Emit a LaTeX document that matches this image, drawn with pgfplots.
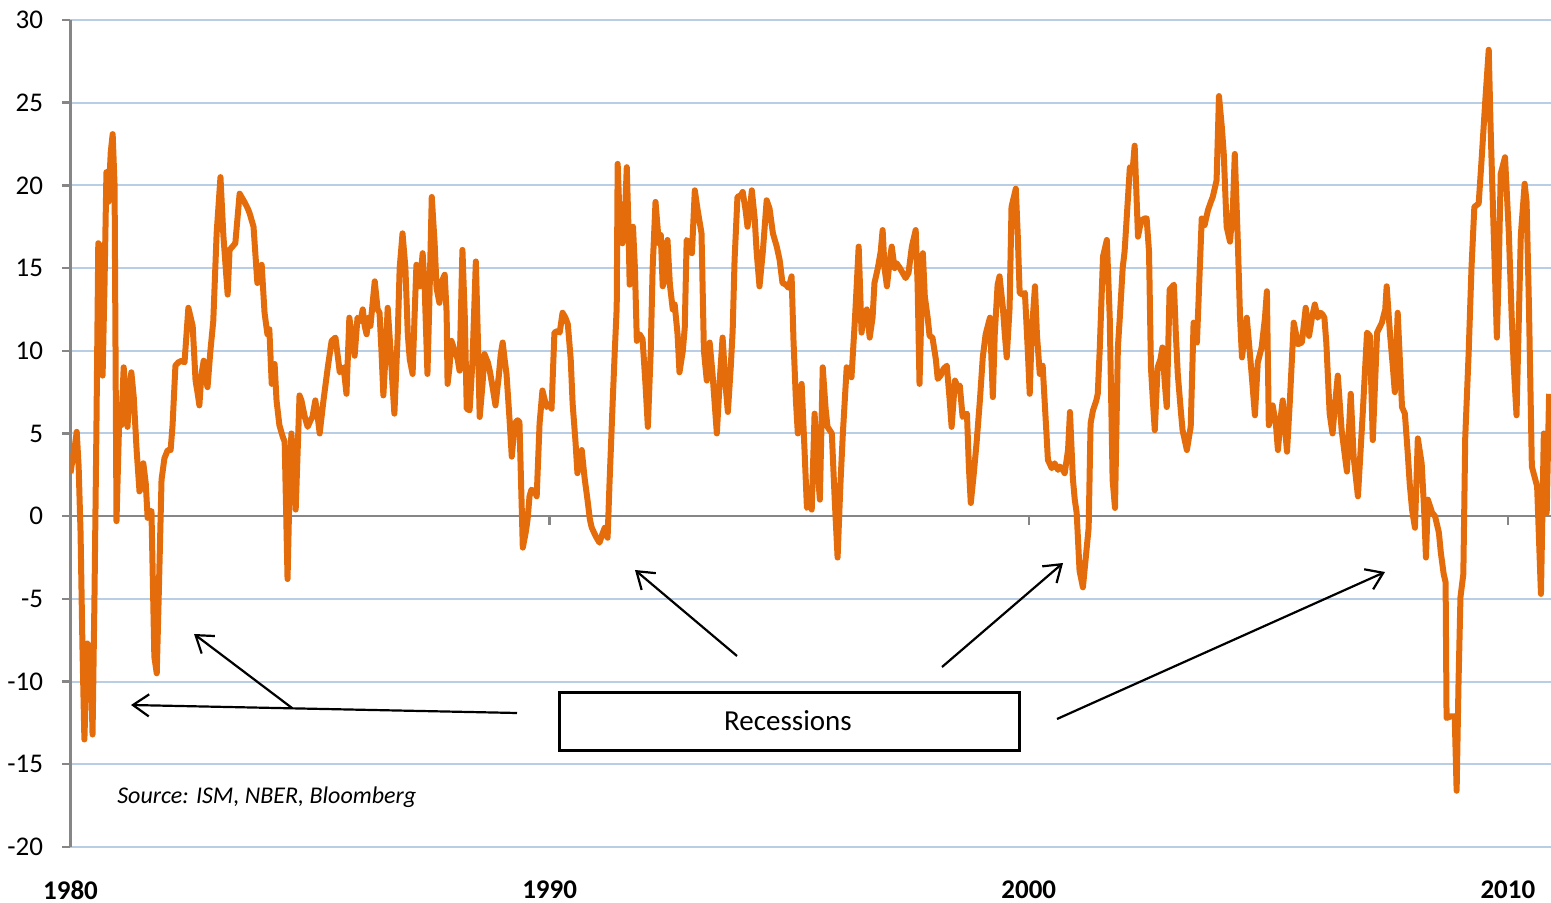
\documentclass[border=0pt]{standalone}
\usepackage{pgfplots}
\pgfplotsset{compat=1.18}
\usepackage{fontspec}
\setmainfont{Carlito}
\usetikzlibrary{arrows.meta}
\definecolor{lineorange}{HTML}{E46C0A}
\definecolor{gridblue}{HTML}{B9CDE5}
\definecolor{axisgray}{HTML}{868686}
\begin{document}
\begin{tikzpicture}
\useasboundingbox (0,0) rectangle (775.5pt,451.5pt);
\begin{axis}[
  scale only axis,
  width=740.25pt, height=413.5pt,
  at={(35.25pt,28pt)}, anchor=south west,
  xmin=1980, xmax=2010.9, ymin=-20, ymax=30,
  axis line style={draw=none},
  tick style={draw=none},
  clip mode=individual,
  xtick={1980,1990,2000,2010},
  xticklabels={1980,1990,2000,2010},
  ytick={-20,-15,-10,-5,0,5,10,15,20,25,30},
  yticklabels={-20,-15,-10,-5,0,5,10,15,20,25,30},
  ymajorgrids,
  major grid style={gridblue, line width=1pt},
  yticklabel style={font=\fontsize{13.5}{16}\selectfont, anchor=east, inner sep=0pt, xshift=-13.5pt},
  xticklabel style={font=\fontsize{13.5}{16}\selectfont\bfseries, anchor=center, inner sep=0pt, yshift=-21.5pt},
]
\draw[axisgray, line width=1.2pt] (axis cs:1980,0) -- (axis cs:2010.9,0);
\draw[axisgray, line width=1.2pt] (axis cs:1990,0) -- ([yshift=-4.5pt]axis cs:1990,0);
\draw[axisgray, line width=1.2pt] (axis cs:2000,0) -- ([yshift=-4.5pt]axis cs:2000,0);
\draw[axisgray, line width=1.2pt] (axis cs:2010,0) -- ([yshift=-4.5pt]axis cs:2010,0);
\draw[axisgray, line width=1.2pt] (axis cs:1980,-20) -- (axis cs:1980,30);
\pgfplotsinvokeforeach{-20,-15,-10,-5,0,5,10,15,20,25,30}{\draw[axisgray, line width=1.2pt] (axis cs:1980,#1) -- ([xshift=-4pt]axis cs:1980,#1);}
\addplot[lineorange, line width=3pt, line join=round] coordinates {
(1980.00,2.6)(1980.04,3.4)(1980.08,4.0)(1980.13,5.1)(1980.17,3.0)(1980.21,-1)(1980.25,-8)(1980.29,-13.5)(1980.35,-7.7)(1980.42,-8)(1980.46,-13.2)(1980.50,-5)(1980.54,5)(1980.58,16.5)(1980.63,16.3)(1980.67,8.5)(1980.71,14)(1980.75,20.8)(1980.79,19)(1980.84,22)(1980.88,23.1)(1980.92,20)(1980.96,-0.3)
(1981.02,6.2)(1981.06,5.5)(1981.11,9.0)(1981.15,7.5)(1981.19,5.4)(1981.23,7.5)(1981.27,8.7)(1981.32,7.2)(1981.38,4)(1981.44,1.5)(1981.48,1.8)(1981.52,3.2)(1981.57,2)(1981.61,-0.1)(1981.65,0.3)(1981.69,0.3)(1981.75,-8.5)(1981.80,-9.5)(1981.84,-5)(1981.90,2.2)(1981.96,3.5)
(1982.03,4.0)(1982.09,4.0)(1982.13,5.5)(1982.19,9.1)(1982.25,9.3)(1982.32,9.4)(1982.38,9.3)(1982.46,12.6)(1982.55,11.5)(1982.61,8.2)(1982.65,7.5)(1982.69,6.7)(1982.73,8.5)(1982.78,9.4)(1982.82,8.3)(1982.86,7.8)(1982.92,10)(1982.98,11.8)
(1983.05,17.1)(1983.13,20.5)(1983.19,17)(1983.24,15)(1983.28,13.4)(1983.32,16.1)(1983.38,16.3)(1983.44,16.5)(1983.53,19.5)(1983.59,19.2)(1983.63,19)(1983.70,18.6)(1983.74,18.3)(1983.82,17.5)(1983.90,14.1)(1983.99,15.2)
(1984.05,12.3)(1984.11,11)(1984.15,11.3)(1984.20,8.0)(1984.26,9.2)(1984.30,7)(1984.36,5.5)(1984.43,4.8)(1984.47,4.5)(1984.53,-3.8)(1984.57,1.5)(1984.61,5.0)(1984.66,3)(1984.70,0.4)(1984.78,7.3)(1984.82,7)(1984.89,6)(1984.95,5.4)
(1985.01,5.8)(1985.05,6)(1985.11,7)(1985.16,6)(1985.20,5.0)(1985.28,7)(1985.37,9)(1985.45,10.6)(1985.53,10.8)(1985.62,8.7)(1985.70,9)(1985.76,7.4)(1985.82,12.0)(1985.89,10.5)(1985.93,9.7)(1985.99,12)
(1986.05,11.8)(1986.10,12.5)(1986.14,11.5)(1986.18,11)(1986.22,12)(1986.26,11.5)(1986.35,14.2)(1986.41,12.5)(1986.45,12.3)(1986.49,10)(1986.53,7.3)(1986.58,10)(1986.62,12.6)(1986.68,10)(1986.72,8)(1986.76,6.2)(1986.83,11)(1986.87,15)(1986.93,17.1)(1986.99,15)
(1987.04,11)(1987.08,9.5)(1987.14,8.6)(1987.18,12)(1987.22,15.2)(1987.29,13.9)(1987.35,15.9)(1987.39,14)(1987.45,8.6)(1987.49,13)(1987.54,19.3)(1987.60,16.5)(1987.64,13.8)(1987.70,12.9)(1987.75,14.2)(1987.81,14.6)(1987.85,12.3)(1987.87,8.0)(1987.91,9)(1987.95,10.6)
(1988.02,10)(1988.08,9.5)(1988.12,8.8)(1988.18,16.1)(1988.23,12)(1988.27,6.5)(1988.33,6.4)(1988.39,9.4)(1988.46,15.4)(1988.50,11)(1988.54,6.0)(1988.60,8)(1988.64,9.8)(1988.71,9.3)(1988.75,8.8)(1988.81,7.8)(1988.87,6.7)(1988.94,8.5)(1988.98,9.8)
(1989.02,10.5)(1989.06,9.5)(1989.10,8.6)(1989.16,6)(1989.21,3.6)(1989.27,5.6)(1989.33,5.8)(1989.37,5.7)(1989.44,-1.9)(1989.50,-1)(1989.54,-0.2)(1989.58,1.2)(1989.62,1.6)(1989.69,1.5)(1989.73,1.2)(1989.79,5.6)(1989.85,7.6)(1989.90,7)(1989.94,6.6)
(1990.00,6.8)(1990.04,6.5)(1990.10,11.1)(1990.17,11.2)(1990.21,11.1)(1990.27,12.3)(1990.33,12)(1990.38,11.6)(1990.44,9.5)(1990.48,6.8)(1990.54,4.5)(1990.58,2.6)(1990.63,3.5)(1990.67,4.0)(1990.73,2.3)(1990.79,1)(1990.84,-0.2)(1990.88,-0.7)(1990.96,-1.2)
(1991.04,-1.6)(1991.11,-1)(1991.15,-0.7)(1991.21,-1.3)(1991.25,2)(1991.32,7.2)(1991.36,10)(1991.40,12.6)(1991.42,21.3)(1991.46,18)(1991.52,16.5)(1991.57,18)(1991.61,21.1)(1991.65,17)(1991.67,14)(1991.74,17.5)(1991.78,15)(1991.82,10.6)(1991.88,11)(1991.94,10.7)
(1992.00,8)(1992.05,5.4)(1992.11,10)(1992.15,15)(1992.21,19.0)(1992.28,16.5)(1992.32,17)(1992.36,13.9)(1992.42,14.5)(1992.46,16.7)(1992.51,14)(1992.57,12.5)(1992.61,12.8)(1992.67,11)(1992.71,8.7)(1992.78,10)(1992.82,11.4)(1992.86,16.7)(1992.92,16.5)(1992.97,15.9)
(1993.03,19.7)(1993.09,18.5)(1993.17,17.1)(1993.22,10)(1993.28,8.2)(1993.34,10.5)(1993.40,8.6)(1993.49,5.0)(1993.55,8.2)(1993.61,10.8)(1993.67,8)(1993.72,6.3)(1993.78,9)(1993.82,11.2)(1993.86,15.5)(1993.92,19.3)(1993.99,19.4)
(1994.03,19.6)(1994.09,18.5)(1994.13,17.5)(1994.18,18.5)(1994.22,19.7)(1994.28,18)(1994.32,16)(1994.38,13.9)(1994.45,16)(1994.53,19.1)(1994.59,18.6)(1994.66,17.1)(1994.74,16.3)(1994.80,15.5)(1994.86,14.1)(1994.93,14)(1994.99,13.8)
(1995.05,14.5)(1995.09,10.6)(1995.14,7)(1995.18,5.0)(1995.22,6)(1995.26,8.0)(1995.32,4)(1995.37,0.5)(1995.43,0.7)(1995.47,0.4)(1995.53,6.2)(1995.59,3)(1995.64,1.0)(1995.70,9.0)(1995.76,6.5)(1995.80,5.4)(1995.89,5.0)(1995.95,1)
(1996.01,-2.5)(1996.07,2)(1996.12,5.0)(1996.20,9.0)(1996.26,8.6)(1996.30,8.4)(1996.37,11.8)(1996.41,14)(1996.45,16.3)(1996.51,11.1)(1996.55,12)(1996.62,12.5)(1996.68,10.8)(1996.74,12)(1996.78,14.1)(1996.85,15)(1996.91,16)(1996.95,17.3)(1996.99,15)
(1997.04,13.9)(1997.10,15.5)(1997.14,16.3)(1997.20,15)(1997.24,15.3)(1997.31,15)(1997.37,14.7)(1997.43,14.4)(1997.49,14.7)(1997.56,16.3)(1997.64,17.3)(1997.68,14)(1997.72,8.0)(1997.79,15.9)(1997.83,13.3)(1997.89,12)(1997.93,10.9)(1997.99,10.8)
(1998.06,9.5)(1998.10,8.3)(1998.16,8.5)(1998.22,8.9)(1998.29,9.1)(1998.35,7)(1998.39,5.4)(1998.46,8.2)(1998.52,7.8)(1998.56,7.9)(1998.62,6.0)(1998.71,6.2)(1998.75,3)(1998.79,0.8)(1998.85,2.5)(1998.91,4.4)(1998.98,7)
(1999.04,9.6)(1999.10,11)(1999.19,12.0)(1999.25,7.2)(1999.29,11)(1999.35,14)(1999.39,14.5)(1999.46,12.6)(1999.50,11)(1999.54,9.6)(1999.60,12.6)(1999.64,18.7)(1999.73,19.8)(1999.77,17)(1999.81,13.5)(1999.87,13.4)(1999.92,13.5)(1999.98,10)
(2000.02,7.4)(2000.06,11)(2000.13,13.9)(2000.17,11)(2000.23,8.6)(2000.29,9.1)(2000.35,6)(2000.40,3.4)(2000.48,2.9)(2000.54,3.2)(2000.61,2.8)(2000.65,3.0)(2000.71,2.8)(2000.75,2.6)(2000.82,4)(2000.86,6.3)(2000.92,2.3)(2000.96,1)
(2001.00,0.2)(2001.06,-3.3)(2001.13,-4.3)(2001.19,-2.5)(2001.25,-0.7)(2001.29,5.6)(2001.34,6.4)(2001.41,7)(2001.44,7.4)(2001.48,10)(2001.55,15.7)(2001.63,16.7)(2001.69,12)(2001.75,2.2)(2001.80,0.5)(2001.86,10.2)(2001.90,12)(2001.96,15)
(2002.00,16)(2002.05,18.3)(2002.11,21.1)(2002.17,21)(2002.21,22.4)(2002.28,16.9)(2002.32,17.5)(2002.36,17.9)(2002.42,18)(2002.46,18.0)(2002.51,16)(2002.55,9)(2002.59,7)(2002.63,5.2)(2002.69,9.0)(2002.75,9.5)(2002.79,10.2)(2002.84,8)(2002.88,6.6)(2002.94,13.7)
(2003.03,14.0)(2003.07,11)(2003.11,8.6)(2003.17,6.5)(2003.21,5.2)(2003.30,4.0)(2003.38,5.4)(2003.44,11.7)(2003.51,10.5)(2003.57,15)(2003.61,18.0)(2003.67,17.6)(2003.74,18.5)(2003.80,19)(2003.84,19.3)(2003.92,20.3)(2003.97,25.4)
(2004.03,23.5)(2004.07,21.9)(2004.13,17.5)(2004.20,16.6)(2004.26,18.6)(2004.30,21.9)(2004.36,16.9)(2004.41,12)(2004.45,9.6)(2004.51,11)(2004.55,12.0)(2004.61,10)(2004.66,8.3)(2004.72,6.1)(2004.78,9.3)(2004.86,10.2)(2004.93,12)(2004.97,13.6)
(2005.01,5.5)(2005.09,6.7)(2005.16,5.5)(2005.20,4.0)(2005.26,6)(2005.30,7.0)(2005.39,3.9)(2005.45,7)(2005.53,11.7)(2005.62,10.4)(2005.70,10.5)(2005.78,12.6)(2005.85,10.9)(2005.91,12)(2005.97,12.8)
(2006.03,12)(2006.09,12.3)(2006.13,12.2)(2006.17,12)(2006.21,10.5)(2006.28,6.2)(2006.34,5.0)(2006.40,7)(2006.45,8.5)(2006.53,5.2)(2006.64,2.7)(2006.72,7.4)(2006.78,3.6)(2006.87,1.2)(2006.97,6.2)
(2007.06,11.1)(2007.12,10.9)(2007.18,4.6)(2007.27,11.1)(2007.37,11.7)(2007.44,12.5)(2007.47,13.9)(2007.54,11.0)(2007.60,9)(2007.64,7.5)(2007.70,12.3)(2007.79,6.6)(2007.85,6.2)(2007.91,3.8)(2007.95,2)
(2008.00,0.4)(2008.06,-0.7)(2008.12,4.7)(2008.20,3.2)(2008.25,0.5)(2008.29,-2.5)(2008.33,1.0)(2008.42,0.2)(2008.48,0.0)(2008.56,-1)(2008.60,-2.2)(2008.66,-3.5)(2008.70,-4)(2008.72,-12.2)(2008.81,-12.1)(2008.89,-12.1)(2008.93,-16.6)(2008.97,-10)
(2009.01,-4.9)(2009.07,-3.5)(2009.11,4.8)(2009.18,9.8)(2009.24,15)(2009.30,18.7)(2009.39,18.9)(2009.45,21.5)(2009.53,25.2)(2009.60,28.2)(2009.64,23.4)(2009.70,17.5)(2009.77,10.8)(2009.81,15)(2009.85,20.7)(2009.94,21.7)
(2010.02,17.1)(2010.08,12)(2010.12,9.2)(2010.18,6.1)(2010.27,17)(2010.35,20.1)(2010.39,19)(2010.44,12.6)(2010.50,3.0)(2010.61,1.8)(2010.69,-4.7)(2010.75,5.0)(2010.81,0.2)(2010.86,7.4)
};
\end{axis}
\node[font=\fontsize{12}{14}\selectfont\itshape, anchor=west, inner sep=0pt] at (58.5pt,53pt) {Source: ISM, NBER, Bloomberg};
\draw[line width=1.5pt] (279.5pt,76pt) rectangle (509.5pt,105pt);
\node[font=\fontsize{14.5}{16}\selectfont, inner sep=0pt] at (394pt,91pt) {Recessions};
\begin{scope}[line width=1.1pt, arrows={-{Straight Barb[length=8pt,width=11pt]}}]
\draw (258.5pt,95pt) -- (65.5pt,99pt);
\draw (146pt,97.5pt) -- (97pt,134.5pt);
\draw (368.5pt,123.5pt) -- (317.5pt,166.5pt);
\draw (471pt,118pt) -- (531.5pt,170pt);
\draw (528.5pt,92pt) -- (692.5pt,165.5pt);
\end{scope}
\end{tikzpicture}
\end{document}
